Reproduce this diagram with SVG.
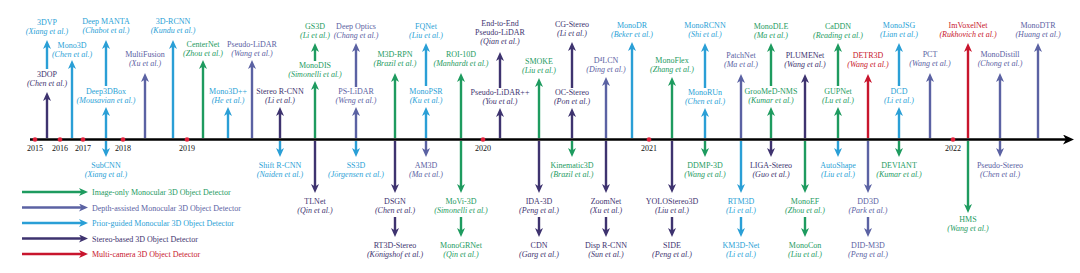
<svg xmlns="http://www.w3.org/2000/svg" width="1080" height="273" viewBox="0 0 1080 273">
<style>
text{font-family:"Liberation Serif","Times New Roman",serif;font-size:8px;text-anchor:middle}
.it{font-style:italic}
.yr{fill:#111;font-size:8px}
.lg{text-anchor:start;font-size:8px}
.tg{fill:#1e9b5f}.ts{fill:#5b62a3}.tc{fill:#2a9fd6}.tp{fill:#3e336f}.tr{fill:#c8152d}
line.a{stroke-width:2.4;fill:none}
.g{stroke:#1e9b5f}.s{stroke:#5b62a3}.c{stroke:#2a9fd6}.p{stroke:#3e336f}.r{stroke:#c8152d}
</style>
<defs>
<marker id="mg" markerUnits="userSpaceOnUse" markerWidth="9" markerHeight="8" viewBox="0 0 9 8" refX="3" refY="4" orient="auto"><path d="M0,0 L9,4 L0,8 L2.5,4 Z" fill="#1e9b5f"/></marker>
<marker id="ms" markerUnits="userSpaceOnUse" markerWidth="9" markerHeight="8" viewBox="0 0 9 8" refX="3" refY="4" orient="auto"><path d="M0,0 L9,4 L0,8 L2.5,4 Z" fill="#5b62a3"/></marker>
<marker id="mc" markerUnits="userSpaceOnUse" markerWidth="9" markerHeight="8" viewBox="0 0 9 8" refX="3" refY="4" orient="auto"><path d="M0,0 L9,4 L0,8 L2.5,4 Z" fill="#2a9fd6"/></marker>
<marker id="mp" markerUnits="userSpaceOnUse" markerWidth="9" markerHeight="8" viewBox="0 0 9 8" refX="3" refY="4" orient="auto"><path d="M0,0 L9,4 L0,8 L2.5,4 Z" fill="#3e336f"/></marker>
<marker id="mr" markerUnits="userSpaceOnUse" markerWidth="9" markerHeight="8" viewBox="0 0 9 8" refX="3" refY="4" orient="auto"><path d="M0,0 L9,4 L0,8 L2.5,4 Z" fill="#c8152d"/></marker>
<marker id="mk" markerUnits="userSpaceOnUse" markerWidth="11" markerHeight="10" viewBox="0 0 11 10" refX="3" refY="5" orient="auto"><path d="M0,0 L11,5 L0,10 L3,5 Z" fill="#000"/></marker>
</defs>
<rect width="1080" height="273" fill="#fff"/>

<g id="axis">
<line x1="30" y1="139.5" x2="1066" y2="139.5" stroke="#000" stroke-width="2.6" marker-end="url(#mk)"/>
<g fill="#e0213a"><circle cx="35" cy="139.5" r="2.3"/><circle cx="60" cy="139.5" r="2.3"/><circle cx="83" cy="139.5" r="2.3"/><circle cx="123" cy="139.5" r="2.3"/><circle cx="187" cy="139.5" r="2.3"/><circle cx="483" cy="139.5" r="2.3"/><circle cx="649" cy="139.5" r="2.3"/><circle cx="953" cy="139.5" r="2.3"/></g>
<text class="yr" x="35" y="151">2015</text><text class="yr" x="60" y="151">2016</text><text class="yr" x="83" y="151">2017</text><text class="yr" x="123" y="151">2018</text><text class="yr" x="187" y="151">2019</text><text class="yr" x="483" y="151">2020</text><text class="yr" x="649" y="151">2021</text><text class="yr" x="953" y="151">2022</text>
</g>

<g id="connectors">
<line class="a p" x1="47" y1="138" x2="47" y2="98" marker-end="url(#mp)"/>
<line class="a c" x1="47" y1="69" x2="47" y2="46" marker-end="url(#mc)"/>
<line class="a c" x1="72" y1="138" x2="72" y2="66" marker-end="url(#mc)"/>
<line class="a c" x1="106" y1="138" x2="106" y2="113" marker-end="url(#mc)"/>
<line class="a c" x1="106" y1="86" x2="106" y2="46" marker-end="url(#mc)"/>
<line class="a s" x1="145" y1="138" x2="145" y2="79" marker-end="url(#ms)"/>
<line class="a c" x1="173" y1="138" x2="173" y2="46" marker-end="url(#mc)"/>
<line class="a g" x1="203" y1="138" x2="203" y2="66" marker-end="url(#mg)"/>
<line class="a c" x1="228" y1="138" x2="228" y2="113" marker-end="url(#mc)"/>
<line class="a s" x1="252" y1="138" x2="252" y2="66" marker-end="url(#ms)"/>
<line class="a p" x1="280" y1="138" x2="280" y2="113" marker-end="url(#mp)"/>
<line class="a g" x1="315" y1="138" x2="315" y2="87" marker-end="url(#mg)"/>
<line class="a g" x1="315" y1="61" x2="315" y2="49" marker-end="url(#mg)"/>
<line class="a s" x1="356" y1="138" x2="356" y2="113" marker-end="url(#ms)"/>
<line class="a s" x1="356" y1="87" x2="356" y2="49" marker-end="url(#ms)"/>
<line class="a g" x1="395" y1="138" x2="395" y2="79" marker-end="url(#mg)"/>
<line class="a c" x1="426" y1="138" x2="426" y2="113" marker-end="url(#mc)"/>
<line class="a c" x1="426" y1="86" x2="426" y2="49" marker-end="url(#mc)"/>
<line class="a g" x1="461" y1="138" x2="461" y2="79" marker-end="url(#mg)"/>
<line class="a p" x1="500" y1="138" x2="500" y2="114" marker-end="url(#mp)"/>
<line class="a p" x1="500" y1="88" x2="500" y2="58" marker-end="url(#mp)"/>
<line class="a g" x1="539" y1="138" x2="539" y2="84" marker-end="url(#mg)"/>
<line class="a p" x1="572" y1="138" x2="572" y2="114" marker-end="url(#mp)"/>
<line class="a p" x1="572" y1="88" x2="572" y2="48" marker-end="url(#mp)"/>
<line class="a s" x1="606" y1="138" x2="606" y2="83" marker-end="url(#ms)"/>
<line class="a c" x1="632" y1="138" x2="632" y2="48" marker-end="url(#mc)"/>
<line class="a g" x1="672" y1="138" x2="672" y2="83" marker-end="url(#mg)"/>
<line class="a c" x1="705" y1="138" x2="705" y2="114" marker-end="url(#mc)"/>
<line class="a c" x1="705" y1="88" x2="705" y2="49" marker-end="url(#mc)"/>
<line class="a s" x1="741" y1="138" x2="741" y2="80" marker-end="url(#ms)"/>
<line class="a g" x1="771" y1="138" x2="771" y2="113" marker-end="url(#mg)"/>
<line class="a g" x1="771" y1="86" x2="771" y2="49" marker-end="url(#mg)"/>
<line class="a p" x1="805" y1="138" x2="805" y2="80" marker-end="url(#mp)"/>
<line class="a g" x1="838" y1="138" x2="838" y2="113" marker-end="url(#mg)"/>
<line class="a g" x1="838" y1="86" x2="838" y2="49" marker-end="url(#mg)"/>
<line class="a r" x1="868" y1="138" x2="868" y2="80" marker-end="url(#mr)"/>
<line class="a c" x1="899" y1="138" x2="899" y2="113" marker-end="url(#mc)"/>
<line class="a c" x1="899" y1="86" x2="899" y2="49" marker-end="url(#mc)"/>
<line class="a s" x1="930" y1="138" x2="930" y2="79" marker-end="url(#ms)"/>
<line class="a r" x1="968" y1="138" x2="968" y2="49" marker-end="url(#mr)"/>
<line class="a s" x1="1000" y1="138" x2="1000" y2="79" marker-end="url(#ms)"/>
<line class="a s" x1="1038" y1="138" x2="1038" y2="49" marker-end="url(#ms)"/>

<line class="a c" x1="106" y1="141" x2="106" y2="151" marker-end="url(#mc)"/>
<line class="a c" x1="280" y1="141" x2="280" y2="151" marker-end="url(#mc)"/>
<line class="a p" x1="315" y1="141" x2="315" y2="187" marker-end="url(#mp)"/>
<line class="a c" x1="356" y1="141" x2="356" y2="151" marker-end="url(#mc)"/>
<line class="a p" x1="395" y1="141" x2="395" y2="187" marker-end="url(#mp)"/>
<line class="a p" x1="395" y1="217" x2="395" y2="231" marker-end="url(#mp)"/>
<line class="a s" x1="426" y1="141" x2="426" y2="151" marker-end="url(#ms)"/>
<line class="a g" x1="461" y1="141" x2="461" y2="187" marker-end="url(#mg)"/>
<line class="a g" x1="461" y1="217" x2="461" y2="231" marker-end="url(#mg)"/>
<line class="a p" x1="539" y1="141" x2="539" y2="187" marker-end="url(#mp)"/>
<line class="a p" x1="539" y1="217" x2="539" y2="231" marker-end="url(#mp)"/>
<line class="a g" x1="572" y1="141" x2="572" y2="151" marker-end="url(#mg)"/>
<line class="a p" x1="606" y1="141" x2="606" y2="187" marker-end="url(#mp)"/>
<line class="a p" x1="606" y1="217" x2="606" y2="231" marker-end="url(#mp)"/>
<line class="a p" x1="672" y1="141" x2="672" y2="187" marker-end="url(#mp)"/>
<line class="a p" x1="672" y1="217" x2="672" y2="231" marker-end="url(#mp)"/>
<line class="a g" x1="705" y1="141" x2="705" y2="151" marker-end="url(#mg)"/>
<line class="a c" x1="741" y1="141" x2="741" y2="187" marker-end="url(#mc)"/>
<line class="a c" x1="741" y1="217" x2="741" y2="231" marker-end="url(#mc)"/>
<line class="a p" x1="771" y1="141" x2="771" y2="151" marker-end="url(#mp)"/>
<line class="a g" x1="805" y1="141" x2="805" y2="187" marker-end="url(#mg)"/>
<line class="a g" x1="805" y1="217" x2="805" y2="231" marker-end="url(#mg)"/>
<line class="a c" x1="838" y1="141" x2="838" y2="151" marker-end="url(#mc)"/>
<line class="a s" x1="868" y1="141" x2="868" y2="187" marker-end="url(#ms)"/>
<line class="a s" x1="868" y1="217" x2="868" y2="231" marker-end="url(#ms)"/>
<line class="a g" x1="899" y1="141" x2="899" y2="151" marker-end="url(#mg)"/>
<line class="a g" x1="968" y1="141" x2="968" y2="207" marker-end="url(#mg)"/>
<line class="a s" x1="1000" y1="141" x2="1000" y2="151" marker-end="url(#ms)"/>
</g>

<g id="legend">
<line class="a g" x1="22" y1="192" x2="82" y2="192" marker-end="url(#mg)"/>
<line class="a s" x1="22" y1="207.5" x2="82" y2="207.5" marker-end="url(#ms)"/>
<line class="a c" x1="22" y1="223" x2="82" y2="223" marker-end="url(#mc)"/>
<line class="a p" x1="22" y1="238.5" x2="82" y2="238.5" marker-end="url(#mp)"/>
<line class="a r" x1="22" y1="254" x2="82" y2="254" marker-end="url(#mr)"/>
<text class="lg tg" x="92" y="195">Image-only Monocular 3D Object Detector</text>
<text class="lg ts" x="92" y="210.5">Depth-assisted Monocular 3D Object Detector</text>
<text class="lg tc" x="92" y="226">Prior-guided Monocular 3D Object Detector</text>
<text class="lg tp" x="92" y="241.5">Stereo-based 3D Object Detector</text>
<text class="lg tr" x="92" y="257">Multi-camera 3D Object Detector</text>
</g>

<g id="n-3dop" class="tp"><text x="47" y="77">3DOP</text><text class="it" x="47" y="86">(Chen et al.)</text></g>
<g id="n-3dvp" class="tc"><text x="47" y="25">3DVP</text><text class="it" x="47" y="34">(Xiang et al.)</text></g>
<g id="n-mono3d" class="tc"><text x="72" y="48">Mono3D</text><text class="it" x="72" y="57">(Chen et al.)</text></g>
<g id="n-deep3dbox" class="tc"><text x="106" y="94">Deep3DBox</text><text class="it" x="106" y="103">(Mousavian et al.)</text></g>
<g id="n-deepmanta" class="tc"><text x="106" y="24">Deep MANTA</text><text class="it" x="106" y="33">(Chabot et al.)</text></g>
<g id="n-multifusion" class="ts"><text x="145" y="57">MultiFusion</text><text class="it" x="145" y="66">(Xu et al.)</text></g>
<g id="n-3drcnn" class="tc"><text x="173" y="24">3D-RCNN</text><text class="it" x="173" y="33">(Kundu et al.)</text></g>
<g id="n-centernet" class="tg"><text x="203" y="47">CenterNet</text><text class="it" x="203" y="56">(Zhou et al.)</text></g>
<g id="n-mono3dpp" class="tc"><text x="228" y="94">Mono3D++</text><text class="it" x="228" y="103">(He et al.)</text></g>
<g id="n-pseudolidar" class="ts"><text x="252" y="47">Pseudo-LiDAR</text><text class="it" x="252" y="56">(Wang et al.)</text></g>
<g id="n-stereorcnn" class="tp"><text x="280" y="94">Stereo R-CNN</text><text class="it" x="280" y="103">(Li et al.)</text></g>
<g id="n-monodis" class="tg"><text x="315" y="68">MonoDIS</text><text class="it" x="315" y="77">(Simonelli et al.)</text></g>
<g id="n-gs3d" class="tg"><text x="315" y="29">GS3D</text><text class="it" x="315" y="38">(Li et al.)</text></g>
<g id="n-pslidar" class="ts"><text x="356" y="94">PS-LiDAR</text><text class="it" x="356" y="103">(Weng et al.)</text></g>
<g id="n-deepoptics" class="ts"><text x="356" y="29">Deep Optics</text><text class="it" x="356" y="38">(Chang et al.)</text></g>
<g id="n-m3drpn" class="tg"><text x="395" y="57">M3D-RPN</text><text class="it" x="395" y="66">(Brazil et al.)</text></g>
<g id="n-monopsr" class="tc"><text x="426" y="94">MonoPSR</text><text class="it" x="426" y="103">(Ku et al.)</text></g>
<g id="n-fqnet" class="tc"><text x="426" y="29">FQNet</text><text class="it" x="426" y="38">(Liu et al.)</text></g>
<g id="n-roi10d" class="tg"><text x="461" y="57">ROI-10D</text><text class="it" x="461" y="66">(Manhardt et al.)</text></g>
<g id="n-plpp" class="tp"><text x="500" y="95">Pseudo-LiDAR++</text><text class="it" x="500" y="104">(You et al.)</text></g>
<g id="n-e2epl" class="tp"><text x="500" y="26">End-to-End</text><text x="500" y="35">Pseudo-LiDAR</text><text class="it" x="500" y="44">(Qian et al.)</text></g>
<g id="n-smoke" class="tg"><text x="539" y="64">SMOKE</text><text class="it" x="539" y="73">(Liu et al.)</text></g>
<g id="n-ocstereo" class="tp"><text x="572" y="95">OC-Stereo</text><text class="it" x="572" y="104">(Pon et al.)</text></g>
<g id="n-cgstereo" class="tp"><text x="572" y="27">CG-Stereo</text><text class="it" x="572" y="36">(Li et al.)</text></g>
<g id="n-d4lcn" class="ts"><text x="606" y="63">D⁴LCN</text><text class="it" x="606" y="72">(Ding et al.)</text></g>
<g id="n-monodr" class="tc"><text x="632" y="28">MonoDR</text><text class="it" x="632" y="37">(Beker et al.)</text></g>
<g id="n-monoflex" class="tg"><text x="672" y="63">MonoFlex</text><text class="it" x="672" y="72">(Zhang et al.)</text></g>
<g id="n-monorun" class="tc"><text x="705" y="95">MonoRUn</text><text class="it" x="705" y="104">(Chen et al.)</text></g>
<g id="n-monorcnn" class="tc"><text x="705" y="28">MonoRCNN</text><text class="it" x="705" y="37">(Shi et al.)</text></g>
<g id="n-patchnet" class="ts"><text x="741" y="58">PatchNet</text><text class="it" x="741" y="67">(Ma et al.)</text></g>
<g id="n-groomed" class="tg"><text x="771" y="94">GrooMeD-NMS</text><text class="it" x="771" y="103">(Kumar et al.)</text></g>
<g id="n-monodle" class="tg"><text x="771" y="29">MonoDLE</text><text class="it" x="771" y="38">(Ma et al.)</text></g>
<g id="n-plumenet" class="tp"><text x="805" y="58">PLUMENet</text><text class="it" x="805" y="67">(Wang et al.)</text></g>
<g id="n-gupnet" class="tg"><text x="838" y="94">GUPNet</text><text class="it" x="838" y="103">(Lu et al.)</text></g>
<g id="n-caddn" class="tg"><text x="838" y="29">CaDDN</text><text class="it" x="838" y="38">(Reading et al.)</text></g>
<g id="n-detr3d" class="tr"><text x="868" y="58">DETR3D</text><text class="it" x="868" y="67">(Wang et al.)</text></g>
<g id="n-dcd" class="tc"><text x="899" y="94">DCD</text><text class="it" x="899" y="103">(Li et al.)</text></g>
<g id="n-monojsg" class="tc"><text x="899" y="28">MonoJSG</text><text class="it" x="899" y="37">(Lian et al.)</text></g>
<g id="n-pct" class="ts"><text x="930" y="57">PCT</text><text class="it" x="930" y="66">(Wang et al.)</text></g>
<g id="n-imvoxelnet" class="tr"><text x="968" y="28">ImVoxelNet</text><text class="it" x="968" y="37">(Rukhovich et al.)</text></g>
<g id="n-monodistill" class="ts"><text x="1000" y="57">MonoDistill</text><text class="it" x="1000" y="66">(Chong et al.)</text></g>
<g id="n-monodtr" class="ts"><text x="1038" y="28">MonoDTR</text><text class="it" x="1038" y="37">(Huang et al.)</text></g>

<g id="n-subcnn" class="tc"><text x="106" y="168">SubCNN</text><text class="it" x="106" y="177">(Xiang et al.)</text></g>
<g id="n-shiftrcnn" class="tc"><text x="280" y="168">Shift R-CNN</text><text class="it" x="280" y="177">(Naiden et al.)</text></g>
<g id="n-tlnet" class="tp"><text x="315" y="204">TLNet</text><text class="it" x="315" y="213">(Qin et al.)</text></g>
<g id="n-ss3d" class="tc"><text x="356" y="168">SS3D</text><text class="it" x="356" y="177">(Jörgensen et al.)</text></g>
<g id="n-dsgn" class="tp"><text x="395" y="204">DSGN</text><text class="it" x="395" y="213">(Chen et al.)</text></g>
<g id="n-rt3dstereo" class="tp"><text x="395" y="248">RT3D-Stereo</text><text class="it" x="395" y="257">(Königshof et al.)</text></g>
<g id="n-am3d" class="ts"><text x="426" y="168">AM3D</text><text class="it" x="426" y="177">(Ma et al.)</text></g>
<g id="n-movi3d" class="tg"><text x="461" y="204">MoVi-3D</text><text class="it" x="461" y="213">(Simonelli et al.)</text></g>
<g id="n-monogrnet" class="tg"><text x="461" y="248">MonoGRNet</text><text class="it" x="461" y="257">(Qin et al.)</text></g>
<g id="n-ida3d" class="tp"><text x="539" y="204">IDA-3D</text><text class="it" x="539" y="213">(Peng et al.)</text></g>
<g id="n-cdn" class="tp"><text x="539" y="248">CDN</text><text class="it" x="539" y="257">(Garg et al.)</text></g>
<g id="n-kinematic3d" class="tg"><text x="572" y="168">Kinematic3D</text><text class="it" x="572" y="177">(Brazil et al.)</text></g>
<g id="n-zoomnet" class="tp"><text x="606" y="204">ZoomNet</text><text class="it" x="606" y="213">(Xu et al.)</text></g>
<g id="n-disprcnn" class="tp"><text x="606" y="248">Disp R-CNN</text><text class="it" x="606" y="257">(Sun et al.)</text></g>
<g id="n-yolostereo3d" class="tp"><text x="672" y="204">YOLOStereo3D</text><text class="it" x="672" y="213">(Liu et al.)</text></g>
<g id="n-side" class="tp"><text x="672" y="248">SIDE</text><text class="it" x="672" y="257">(Peng et al.)</text></g>
<g id="n-ddmp3d" class="tg"><text x="705" y="168">DDMP-3D</text><text class="it" x="705" y="177">(Wang et al.)</text></g>
<g id="n-rtm3d" class="tc"><text x="741" y="204">RTM3D</text><text class="it" x="741" y="213">(Li et al.)</text></g>
<g id="n-km3dnet" class="tc"><text x="741" y="248">KM3D-Net</text><text class="it" x="741" y="257">(Li et al.)</text></g>
<g id="n-ligastereo" class="tp"><text x="771" y="168">LIGA-Stereo</text><text class="it" x="771" y="177">(Guo et al.)</text></g>
<g id="n-monoef" class="tg"><text x="805" y="204">MonoEF</text><text class="it" x="805" y="213">(Zhou et al.)</text></g>
<g id="n-monocon" class="tg"><text x="805" y="248">MonoCon</text><text class="it" x="805" y="257">(Liu et al.)</text></g>
<g id="n-autoshape" class="tc"><text x="838" y="168">AutoShape</text><text class="it" x="838" y="177">(Liu et al.)</text></g>
<g id="n-dd3d" class="ts"><text x="868" y="204">DD3D</text><text class="it" x="868" y="213">(Park et al.)</text></g>
<g id="n-didm3d" class="ts"><text x="868" y="248">DID-M3D</text><text class="it" x="868" y="257">(Peng et al.)</text></g>
<g id="n-deviant" class="tg"><text x="899" y="168">DEVIANT</text><text class="it" x="899" y="177">(Kumar et al.)</text></g>
<g id="n-hms" class="tg"><text x="968" y="222">HMS</text><text class="it" x="968" y="231">(Wang et al.)</text></g>
<g id="n-pseudostereo" class="ts"><text x="1000" y="168">Pseudo-Stereo</text><text class="it" x="1000" y="177">(Chen et al.)</text></g>
</svg>
